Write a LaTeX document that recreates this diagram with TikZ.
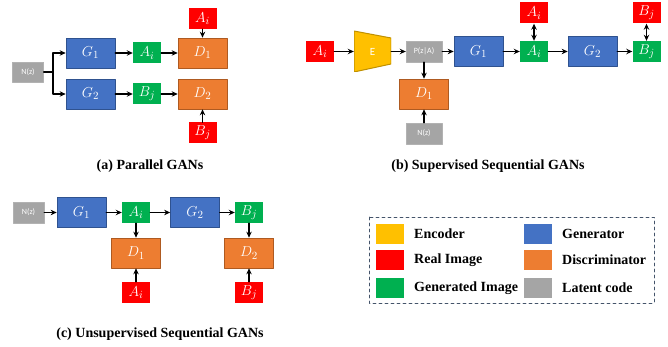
\documentclass[tikz,border=0pt]{standalone}
\usepackage{fontspec}
\setmainfont{Liberation Serif}
\newfontfamily\boxfont{Carlito}
\usetikzlibrary{arrows.meta}
\definecolor{genblue}{HTML}{4472C4}
\definecolor{genblueline}{HTML}{2F528F}
\definecolor{discorange}{HTML}{ED7D31}
\definecolor{discline}{HTML}{AE5A21}
\definecolor{realred}{HTML}{FF0000}
\definecolor{gengreen}{HTML}{00B050}
\definecolor{latentgray}{HTML}{A5A5A5}
\definecolor{encyellow}{HTML}{FFC000}
\definecolor{encline}{HTML}{BF9000}
\definecolor{legendline}{HTML}{44546A}

\begin{document}
\begin{tikzpicture}[x=1pt,y=-1pt,>={Stealth[length=6pt,width=5.4pt]},line cap=round,line join=round,
  flow/.style={->,line width=1.3pt},
  blockbase/.style={inner sep=0pt,text=white,font=\fontsize{15}{17}\selectfont},
  gblock/.style={blockbase,fill=genblue,draw=genblueline,line width=0.6pt,minimum width=49pt,minimum height=30pt},
  dblock/.style={blockbase,fill=discorange,draw=discline,line width=0.6pt,minimum width=49pt,minimum height=30pt},
  realbox/.style={blockbase,fill=realred,minimum width=28pt,minimum height=21pt},
  genbox/.style={blockbase,fill=gengreen,minimum width=28pt,minimum height=21pt},
  latbox/.style={blockbase,fill=latentgray,draw=latentgray!85,line width=0.4pt,minimum width=31pt,minimum height=21pt,font=\boxfont\fontsize{8}{9}\selectfont},
  capt/.style={inner sep=0pt,font=\bfseries\fontsize{14}{16}\selectfont},
  swatch/.style={minimum width=28pt,minimum height=20pt,inner sep=0pt},
  legtext/.style={anchor=west,inner sep=0pt,font=\bfseries\fontsize{14}{16}\selectfont}]
\useasboundingbox (0,0) rectangle (668,347);
% (a) parallel
\node[latbox,minimum height=20pt] (nza) at (28,72) {N(z)};
\node[gblock] (g1a) at (90.5,53) {$G_1$};
\node[gblock] (g2a) at (90.5,94) {$G_2$};
\node[genbox] (aga) at (147,53) {$A_i$};
\node[genbox] (bga) at (147,94) {$B_j$};
\node[dblock] (d1a) at (202.5,53) {$D_1$};
\node[dblock] (d2a) at (202.5,94) {$D_2$};
\node[realbox] (ara) at (202.5,18.5) {$A_i$};
\node[realbox] (bra) at (202.5,133) {$B_j$};
\coordinate (splita) at (53,72);
\draw[line width=1.3pt] (nza) -- (splita);
\draw[flow] (splita) |- (g1a);
\draw[flow] (splita) |- (g2a);
\draw[flow] (g1a) -- (aga);
\draw[flow] (g2a) -- (bga);
\draw[flow] (aga) -- (d1a);
\draw[flow] (bga) -- (d2a);
\draw[flow] (ara) -- (d1a);
\draw[flow] (bra) -- (d2a);
\node[capt] (capa) at (150,166) {(a) Parallel GANs};
% (b) supervised
\node[realbox] (arb) at (320,51.5) {$A_i$};
\node[inner sep=0pt,minimum width=37pt,minimum height=41pt,text=white,font=\boxfont\fontsize{11}{13}\selectfont,
  path picture={\fill[encyellow,draw=encline,line width=1pt] (path picture bounding box.north west)
    -- ([yshift=-7pt]path picture bounding box.north east) -- ([yshift=8pt]path picture bounding box.south east)
    -- (path picture bounding box.south west) -- cycle;}] (encb) at (372.5,51.5) {E};
\node[latbox,minimum width=36pt] (pzb) at (424,51.5) {P(z|A)};
\node[gblock] (g1b) at (478.5,51.5) {$G_1$};
\node[genbox] (agb) at (534,51.5) {$A_i$};
\node[realbox] (arb2) at (534,13) {$A_i$};
\node[gblock] (g2b) at (592.5,51.5) {$G_2$};
\node[genbox] (bgb) at (646.5,51.5) {$B_j$};
\node[realbox] (brb) at (646.5,13) {$B_j$};
\node[dblock] (d1b) at (424,94) {$D_1$};
\node[latbox,minimum width=36pt] (nzb) at (424,133.5) {N(z)};
\draw[flow] (arb) -- (encb);
\draw[flow] (encb) -- (pzb);
\draw[flow] (pzb) -- (g1b);
\draw[flow] (g1b) -- (agb);
\draw[flow] (agb) -- (g2b);
\draw[flow] (g2b) -- (bgb);
\draw[flow,<->] (arb2) -- (agb);
\draw[flow,<->] (brb) -- (bgb);
\draw[flow] (pzb) -- (d1b);
\draw[flow] (nzb) -- (d1b);
\node[capt] (capb) at (488,166) {(b) Supervised Sequential GANs};
% (c) unsupervised
\node[latbox] (nzc) at (28.5,212.5) {N(z)};
\node[gblock] (g1c) at (81.5,212.5) {$G_1$};
\node[genbox] (agc) at (136,212.5) {$A_i$};
\node[gblock] (g2c) at (195,212.5) {$G_2$};
\node[genbox] (bgc) at (249,212.5) {$B_j$};
\node[dblock] (d1c) at (136,253) {$D_1$};
\node[dblock] (d2c) at (249,253) {$D_2$};
\node[realbox] (arc) at (136,292.5) {$A_i$};
\node[realbox] (brc) at (249,292.5) {$B_j$};
\draw[flow] (nzc) -- (g1c);
\draw[flow] (g1c) -- (agc);
\draw[flow] (agc) -- (g2c);
\draw[flow] (g2c) -- (bgc);
\draw[flow] (agc) -- (d1c);
\draw[flow] (bgc) -- (d2c);
\draw[flow] (arc) -- (d1c);
\draw[flow] (brc) -- (d2c);
\node[capt] (capc) at (160,334) {(c) Unsupervised Sequential GANs};
% legend
\draw[legendline,dashed,line width=0.7pt] (369,217) rectangle (654,303);
\node[swatch,fill=encyellow] (kenc) at (390,233.5) {};
\node[legtext] (tenc) at (414,233.5) {Encoder};
\node[swatch,fill=realred] (kreal) at (390,260) {};
\node[legtext] (treal) at (414,260) {Real Image};
\node[swatch,fill=gengreen] (kgen) at (390,288) {};
\node[legtext] (tgen) at (414,288) {Generated Image};
\node[swatch,fill=genblue] (kgnr) at (538,233.5) {};
\node[legtext] (tgnr) at (562,233.5) {Generator};
\node[swatch,fill=discorange] (kdis) at (538,260) {};
\node[legtext] (tdis) at (562,260) {Discriminator};
\node[swatch,fill=latentgray] (klat) at (538,288) {};
\node[legtext] (tlat) at (562,288) {Latent code};
\end{tikzpicture}
\end{document}
